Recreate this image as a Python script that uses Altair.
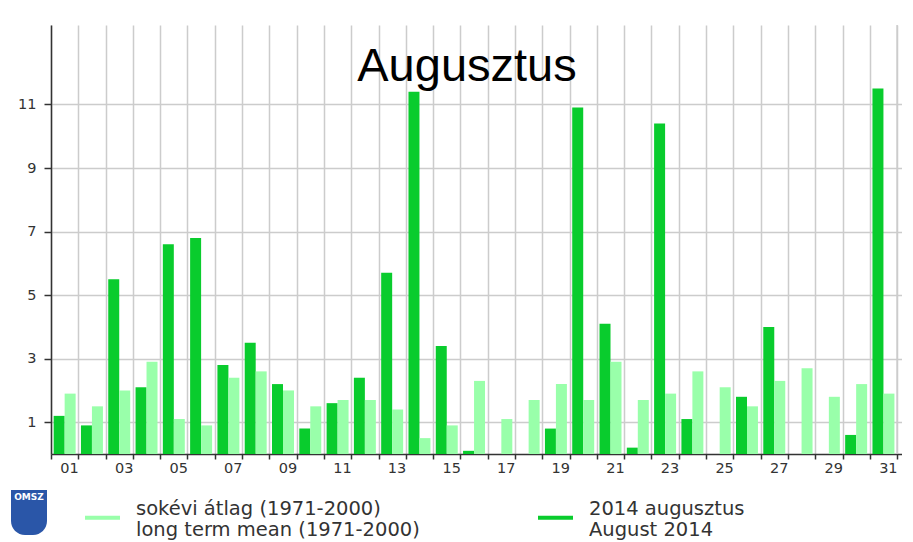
import altair as alt
import pandas as pd

# ---- data ----
days = [f"{d:02d}" for d in range(1, 32)]
rain_2014 = [1.2, 0.9, 5.5, 2.1, 6.6, 6.8, 2.8, 3.5, 2.2, 0.8,
             1.6, 2.4, 5.7, 11.4, 3.4, 0.1, 0.0, 0.0, 0.8, 10.9,
             4.1, 0.2, 10.4, 1.1, 0.0, 1.8, 4.0, 0.0, 0.0, 0.6, 11.5]
rain_mean = [1.9, 1.5, 2.0, 2.9, 1.1, 0.9, 2.4, 2.6, 2.0, 1.5,
             1.7, 1.7, 1.4, 0.5, 0.9, 2.3, 1.1, 1.7, 2.2, 1.7,
             2.9, 1.7, 1.9, 2.6, 2.1, 1.5, 2.3, 2.7, 1.8, 2.2, 1.9]
y_ticks = list(range(1, 13))

S_MEAN = "sokévi átlag (1971-2000)|long term mean (1971-2000)"
S_2014 = "2014 augusztus|August 2014"
LIGHT = "#99ffaa"
DARK = "#09cc2d"
GRID = "#cccccc"
AXIS = "#333333"

rows = []
for d, a, m in zip(days, rain_2014, rain_mean):
    rows.append({"day": d, "series": S_2014, "value": a})
    rows.append({"day": d, "series": S_MEAN, "value": m})
df = pd.DataFrame(rows)

W, H = 851, 429

x_scale = alt.Scale(domain=days, paddingInner=0, paddingOuter=0.09, align=0)
y_scale = alt.Scale(domain=[0, 13.5], nice=False, zero=True)

bars = alt.Chart(df).mark_bar().encode(
    x=alt.X("day:N", scale=x_scale, title=None,
            axis=alt.Axis(tickBand="extent", grid=True, gridColor=GRID, gridWidth=1.5,
                          ticks=True, tickSize=5, tickColor=AXIS, tickWidth=1.5,
                          domainColor=AXIS, domainWidth=1.5,
                          labelExpr="parseInt(datum.value) % 2 == 1 ? datum.label : ''",
                          labelAngle=0, labelOverlap=False, labelOffset=13.65,
                          labelFont="DejaVu Sans", labelFontSize=14.5, labelColor=AXIS,
                          labelPadding=9)),
    xOffset=alt.XOffset("series:N",
                        scale=alt.Scale(domain=[S_2014, S_MEAN], paddingInner=0, paddingOuter=0.242)),
    y=alt.Y("value:Q", scale=y_scale, title=None,
            axis=alt.Axis(values=y_ticks,
                          labelExpr="datum.value % 2 == 1 ? datum.label : ''",
                          grid=True, gridColor=GRID, gridWidth=1.5,
                          gridOpacity={"condition": {"test": "datum.value % 2 == 0", "value": 0}, "value": 1},
                          tickSize=7, tickColor=AXIS, tickWidth=1.5,
                          domainColor=AXIS, domainWidth=1.5,
                          labelFont="DejaVu Sans", labelFontSize=14.5, labelColor=AXIS,
                          labelPadding=8)),
    color=alt.Color("series:N",
                    scale=alt.Scale(domain=[S_MEAN, S_2014], range=[LIGHT, DARK]),
                    legend=alt.Legend(orient="none", legendX=33, legendY=465,
                                      direction="horizontal", title=None,
                                      symbolType="M-1,0.4H1V0.628H-1Z", symbolSize=1225,
                                      labelFont="DejaVu Sans", labelFontSize=19.5, labelColor=AXIS,
                                      labelOffset=15, labelLimit=600, columnPadding=117,
                                      labelExpr="split(datum.label, '|')", padding=0)),
)

# closing vertical grid line at the right edge of day 31
closing = alt.Chart(pd.DataFrame({"day": [days[-1]]})).mark_rule(
    color=GRID, strokeWidth=1.5
).encode(
    x=alt.X("day:N", bandPosition=1, title=None),
    y=alt.datum(0),
    y2=alt.datum(13.5),
)

title = alt.Chart(pd.DataFrame({"t": ["Augusztus"]})).mark_text(
    font="Liberation Sans", fontSize=47, color="black", align="center", baseline="alphabetic"
).encode(text="t:N", x=alt.value(416), y=alt.value(56))

logo = alt.Chart(pd.DataFrame({"t": ["OMSZ"]})).mark_rect(
    color="#2a56a8", cornerRadiusBottomLeft=14, cornerRadiusBottomRight=14
).encode(x=alt.value(-40), x2=alt.value(-4), y=alt.value(465), y2=alt.value(510))

logo_text = alt.Chart(pd.DataFrame({"t": ["OMSZ"]})).mark_text(
    font="DejaVu Sans", fontSize=9, fontWeight="bold", color="white", align="center", baseline="top"
).encode(text="t:N", x=alt.value(-22), y=alt.value(468))

chart = alt.layer(closing, bars, title, logo, logo_text).properties(
    width=W, height=H,
    padding={"left": 3, "top": 16, "right": 0, "bottom": 0},
    background="white",
).configure_view(stroke=None)

chart.save("out.html", embed_options={"renderer": "svg", "actions": False})
